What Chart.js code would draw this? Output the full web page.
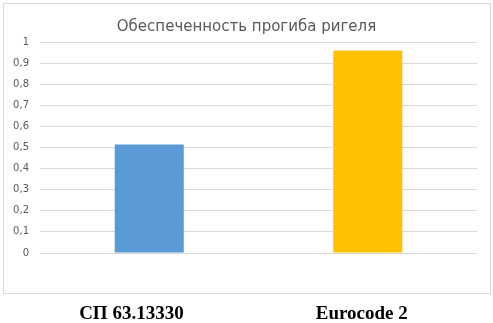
<!DOCTYPE html>
<html>
<head>
<meta charset="utf-8">
<script src="https://cdn.jsdelivr.net/npm/chart.js@4"></script>
<style>
  html, body { margin: 0; padding: 0; background: #fff; }
  #wrap { width: 493px; height: 323px; }
</style>
</head>
<body>
<div id="wrap"><canvas id="myChart" width="493" height="323"></canvas></div>
<script>
var kategoriak = ["СП 63.13330", "Eurocode 2"];
var ertekek = [0.514, 0.96];
var szinek = ["#5B9BD5", "#FFC000"];
var cim = "Обеспеченность прогиба ригеля";

// keret a diagram korul (a tengelyfeliratok kivul vannak)
const keret = {
    id: 'keret',
    beforeDraw(chart) {
        const ctx = chart.ctx;
        ctx.save();
        ctx.fillStyle = '#fff';
        ctx.fillRect(0, 0, chart.width, chart.height);
        ctx.strokeStyle = '#d9d9d9';
        ctx.lineWidth = 1;
        ctx.strokeRect(3.5, 3.5, 487, 290);
        ctx.restore();
    }
};

const config = {
    type: 'bar',
    data: {
        labels: kategoriak,
        datasets: [{
            data: ertekek,
            backgroundColor: szinek,
            borderWidth: 0,
            barPercentage: 1,
            categoryPercentage: 0.316
        }]
    },
    options: {
        responsive: false,
        animation: false,
        layout: { padding: 0 },
        plugins: {
            legend: { display: false },
            tooltip: { enabled: false },
            title: {
                display: true,
                text: cim,
                color: '#595959',
                font: { family: 'DejaVu Sans', size: 15, weight: 'normal' },
                padding: { top: 18, bottom: 6 }
            }
        },
        scales: {
            x: {
                grid: { display: false, drawTicks: false },
                border: { display: false },
                ticks: {
                    color: '#000',
                    padding: 50,
                    labelOffset: -6,
                    font: { family: 'Liberation Serif', size: 19, weight: 'bold' },
                    // a felirat a kategoria kozepetol balra all
                    callback: function(v, i) {
                        var t = kategoriak[i];
                        return i === 0 ? t + '\u00a0\u00a0\u00a0\u00a0\u00a0' : t;
                    }
                },
                afterFit: function(s) { s.height = 70; }
            },
            y: {
                min: 0,
                max: 1,
                grid: { color: '#d9d9d9', drawTicks: false },
                border: { display: false },
                ticks: {
                    stepSize: 0.1,
                    color: '#595959',
                    padding: 11,
                    font: { family: 'DejaVu Sans', size: 10 },
                    callback: function(v) { return String(Math.round(v * 10) / 10).replace('.', ','); }
                },
                afterFit: function(s) { s.width = 40; }
            },
            // ures jobb oldali sav, hogy a cim kozepen maradjon
            jobb: {
                position: 'right',
                grid: { display: false },
                border: { display: false },
                ticks: { display: false },
                afterFit: function(s) { s.width = 16; }
            }
        }
    },
    plugins: [keret]
};

const ctx = document.getElementById('myChart').getContext('2d');
const myChart = new Chart(ctx, config);
</script>
</body>
</html>
